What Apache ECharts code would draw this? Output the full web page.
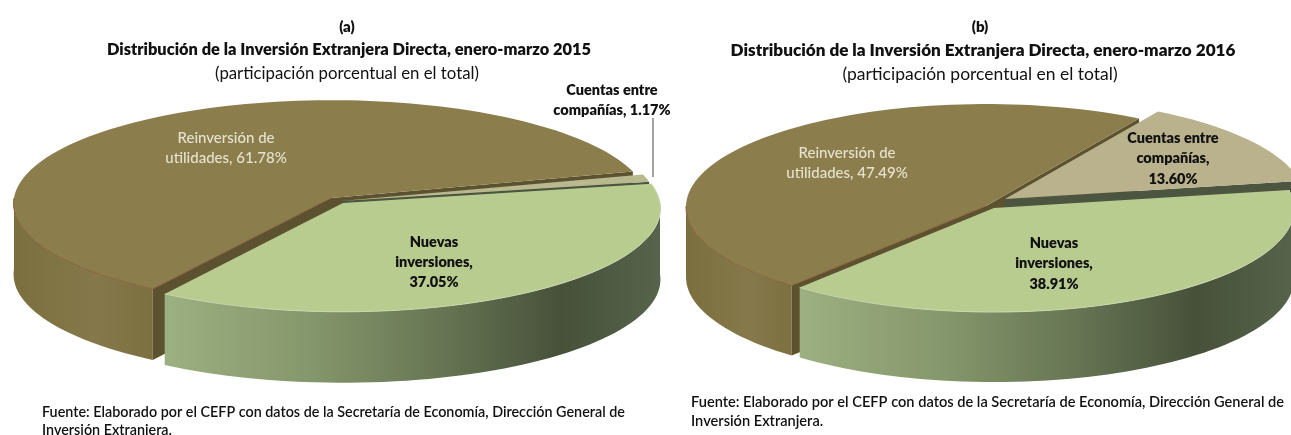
<!DOCTYPE html>
<html>
<head>
<meta charset="utf-8">
<style>
  html, body { margin: 0; padding: 0; background: #fff; }
  #chart { width: 1291px; height: 435px; }
</style>
<script src="https://cdn.jsdelivr.net/npm/echarts@6/dist/echarts.min.js"></script>
</head>
<body>
<div id="chart"></div>
<script>
// categories in clockwise drawing order
var categories = ["Reinversión de utilidades", "Cuentas entre compañías", "Nuevas inversiones"];
var values2015 = [61.78, 1.17, 37.05];
var values2016 = [47.49, 13.6, 38.91];
var panelTitle = "Distribución de la Inversión Extranjera Directa, enero-marzo ";
var panelSub = "(participación porcentual en el total)";
var fuente = "Fuente: Elaborado por el CEFP con datos de la Secretaría de Economía, Dirección General de\nInversión Extranjera.";
// line breaks of each label, {v} is the value
var labels2015 = ["Reinversión de\nutilidades, {v}%", "Cuentas entre\ncompañías, {v}%", "Nuevas\ninversiones,\n{v}%"];
var labels2016 = ["Reinversión de\nutilidades, {v}%", "Cuentas entre\ncompañías,\n{v}%", "Nuevas\ninversiones,\n{v}%"];

var FONT = "Lato, sans-serif";
var G = echarts.graphic;

var TOP_COL = ["#8b7e4c", "#b9b98f", "#b9cc90"];
var TOP_COL_B = ["#8b7e4c", "#bab28d", "#b9cc90"];
var CUT_COL = ["#5d5230", "#4b5540", "#4b5540"];
var WALL = [
  function () {
    return new G.LinearGradient(0, 0, 1, 0, [
      { offset: 0, color: "#7b6f3f" },
      { offset: 0.6, color: "#85784a" },
      { offset: 1, color: "#7c7041" }
    ]);
  },
  null,
  function () {
    return new G.LinearGradient(0, 0, 1, 0, [
      { offset: 0, color: "#9db081" },
      { offset: 0.3, color: "#84966b" },
      { offset: 0.55, color: "#687654" },
      { offset: 0.8, color: "#47513a" },
      { offset: 1, color: "#57634a" }
    ]);
  }
];

function point(p, apex, deg, down) {
  var a = (deg * Math.PI) / 180;
  var x = Math.sin(a);
  var y = -Math.cos(a);
  var d = 1 - p.k * y;
  return [apex[0] + (p.sx * x) / d, apex[1] + (p.sy * y) / d + (down || 0)];
}

function arc(p, apex, from, to, down) {
  var pts = [];
  var n = Math.max(2, Math.ceil(Math.abs(to - from) / 2));
  for (var i = 0; i <= n; i++) {
    pts.push(point(p, apex, from + ((to - from) * i) / n, down));
  }
  return pts;
}

function pieSeries(p, values, labelTexts) {
  var total = values.reduce(function (s, v) { return s + v; }, 0);
  return {
    type: "custom",
    coordinateSystem: "none",
    silent: true,
    animation: false,
    data: values.map(function (v) { return [v]; }),
    renderItem: function (params, api) {
      var i = params.dataIndex;
      var before = 0;
      for (var j = 0; j < i; j++) before += values[j];
      var from = p.start + (before / total) * 360;
      var to = from + (api.value(0) / total) * 360;
      var apex = p.apex[i];
      var kids = [];

      // outer wall, near side only
      var f = Math.max(from, 90);
      var t = Math.min(to, 270);
      var f2 = Math.max(from, 450);
      var t2 = Math.min(to, 630);
      if (f2 < t2) { f = f2; t = t2; }
      if (f < t && WALL[i]) {
        kids.push({
          type: "polygon",
          shape: { points: arc(p, apex, f, t, 0).concat(arc(p, apex, t, f, p.depth)) },
          style: { fill: WALL[i]() }
        });
      }
      // cut faces that look at the viewer
      [[from, Math.sin((from * Math.PI) / 180) < 0], [to, Math.sin((to * Math.PI) / 180) > 0]].forEach(function (e) {
        if (!e[1]) return;
        var r = point(p, apex, e[0], 0);
        var rd = point(p, apex, e[0], p.depth);
        kids.push({
          type: "polygon",
          shape: { points: [apex, r, rd, [apex[0], apex[1] + p.depth]] },
          style: { fill: CUT_COL[i] }
        });
      });
      // top face
      kids.push({
        type: "polygon",
        shape: { points: [apex].concat(arc(p, apex, from, to, 0)) },
        style: { fill: p.top[i] }
      });
      // thin reddish rim on the brown slice, pale rim on the green one
      if (f < t) {
        kids.push({
          type: "polyline",
          shape: { points: (i === 0 ? [apex] : []).concat(arc(p, apex, from, t, 0)) },
          style: { fill: null, stroke: i === 0 ? "#8a6238" : "#c9d6ae", lineWidth: 1 }
        });
      }
      // label
      var lb = p.labels[i];
      labelTexts[i].replace("{v}", values[i].toFixed(2)).split("\n").forEach(function (line, n) {
        kids.push({
          type: "text",
          style: {
            text: line,
            x: lb.x,
            y: lb.y + n * lb.lh,
            align: "center",
            verticalAlign: "middle",
            fill: lb.color,
            font: lb.font
          },
          z2: 10
        });
      });
      return { type: "group", children: kids };
    }
  };
}

var LIGHT = "500 15px " + FONT;
var DARK = "800 14.5px " + FONT;

var panelA = {
  start: 212.5, k: 0.053, sx: 317, sy: 103, depth: 71,
  apex: [[331, 198], [341, 201], [343, 203]],
  top: TOP_COL,
  labels: [
    { x: 226, y: 138, lh: 20, color: "#e6e2cf", font: LIGHT },
    { x: 612, y: 90, lh: 20, color: "#111", font: DARK },
    { x: 434, y: 242, lh: 20, color: "#111", font: DARK }
  ]
};
var panelB = {
  start: 220, k: 0.01, sx: 300, sy: 103, depth: 70,
  apex: [[986, 206], [1005, 199], [994, 208]],
  top: TOP_COL_B,
  labels: [
    { x: 847, y: 153, lh: 20, color: "#e6e2cf", font: LIGHT },
    { x: 1173, y: 138, lh: 20.5, color: "#111", font: DARK },
    { x: 1054, y: 243, lh: 20.5, color: "#111", font: DARK }
  ]
};

// ECharts adds the title's 5px padding to the centre, so it is taken off here
function titles(cx, tag, year, titleX, titleSize, subSize) {
  return [
    { text: tag, left: cx - 5, top: 15, textAlign: "center", textStyle: { fontFamily: FONT, fontSize: 15, fontWeight: 800, color: "#111" } },
    { text: panelTitle + year, left: titleX - 5, top: 37, textAlign: "center", textStyle: { fontFamily: FONT, fontSize: titleSize, fontWeight: 800, color: "#111" } },
    { text: panelSub, left: cx - 5, top: 60, textAlign: "center", textStyle: { fontFamily: FONT, fontSize: subSize, fontWeight: 400, color: "#111" } }
  ];
}

var chart = echarts.init(document.getElementById("chart"));
chart.setOption({
  backgroundColor: "#fff",
  animation: false,
  title: titles(347, "(a)", "2015", 349, 16.4, 16.8).concat(titles(980, "(b)", "2016", 983, 17.1, 17.5)),
  series: [pieSeries(panelA, values2015, labels2015), pieSeries(panelB, values2016, labels2016)],
  graphic: [
    // leader line of the small slice
    { type: "line", silent: true, z: 20, shape: { x1: 653, y1: 118, x2: 653, y2: 177 }, style: { stroke: "#444", lineWidth: 1 } },
    { type: "text", silent: true, left: 42, top: 403, style: { text: fuente, fill: "#111", font: "600 14.35px " + FONT, lineHeight: 18 } },
    { type: "text", silent: true, left: 691, top: 393, style: { text: fuente, fill: "#111", font: "600 14.6px " + FONT, lineHeight: 19 } }
  ]
});
</script>
</body>
</html>
